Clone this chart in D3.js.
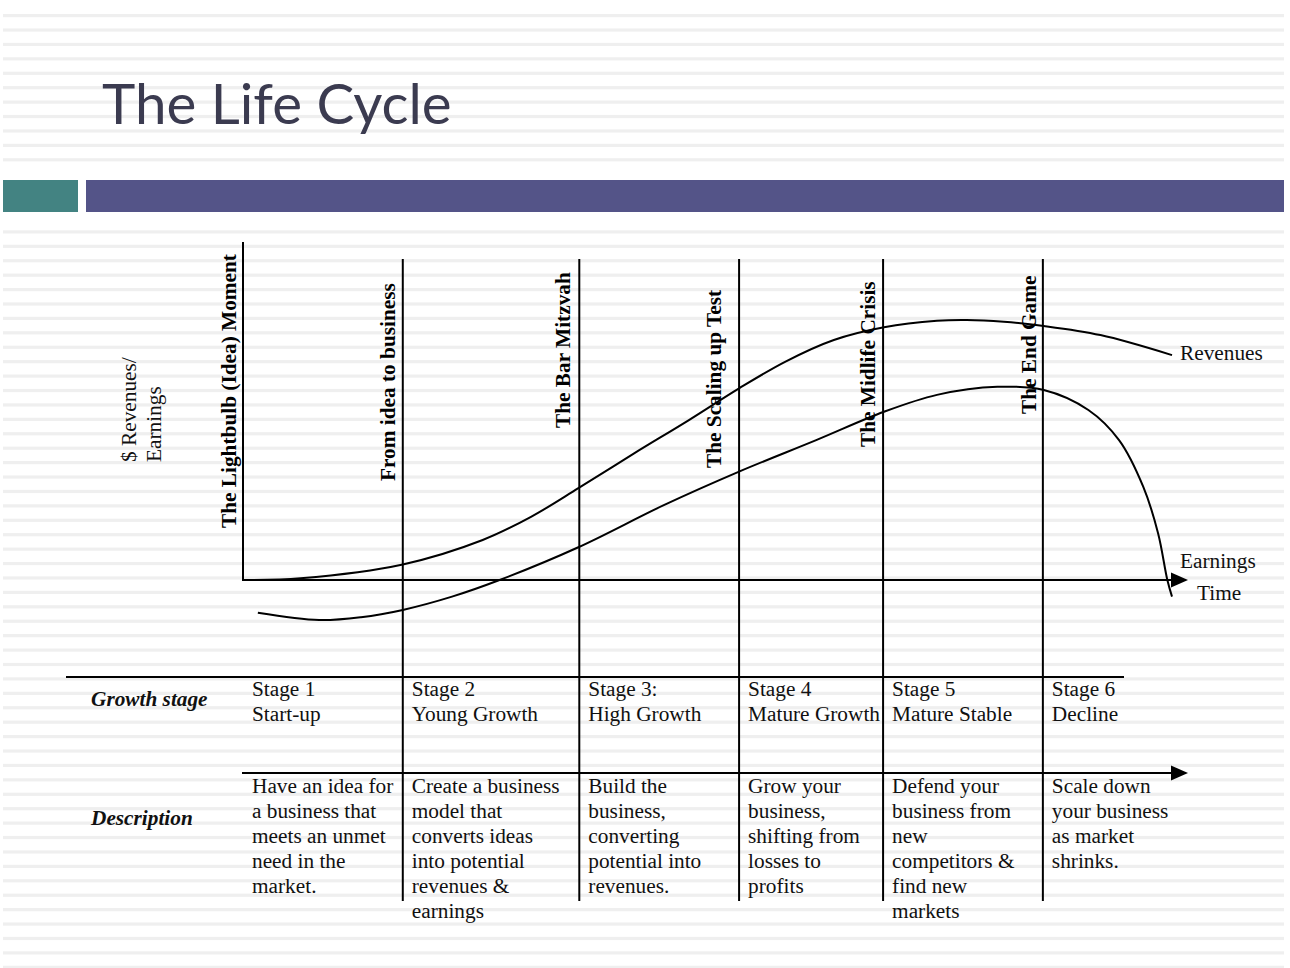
<!DOCTYPE html>
<html>
<head>
<meta charset="utf-8">
<script src="https://cdn.jsdelivr.net/npm/d3@7"></script>
<style>
  html, body { margin: 0; padding: 0; background: #ffffff; }
  svg { display: block; }
</style>
</head>
<body>
<svg id="chart" width="1290" height="968"></svg>
<script>
// ---------------- DATA ----------------
const titleText = "The Life Cycle";

// time runs 0..100 along the x axis; value 0 is the axis, 100 the revenue peak
const stageBoundaries = [0, 17.2, 36.2, 53.4, 68.9, 86.1];
const milestones = [
  "The Lightbulb (Idea) Moment",
  "From idea to business",
  "The Bar Mitzvah",
  "The Scaling up Test",
  "The Midlife Crisis",
  "The End Game"
];

const revenueTime  = [0, 6.2, 17.2, 25.8, 31.0, 36.1, 42.1, 48.0, 53.4, 58.4, 63.6, 69.0, 74.7, 77.9, 81.9, 86.2, 92.3, 100];
const revenueValue = [0, 0.7, 6.0, 15.4, 24.3, 35.3, 48.7, 61.5, 73.7, 84.0, 92.3, 97.2, 99.7, 100, 99.3, 97.7, 94.2, 86.5];

const earningsTime  = [1.6, 8.2, 12.7, 17.2, 22.5, 27.4, 36.1, 45.3, 53.4, 61.7, 69.0, 74.7, 81.2, 86.2, 91.0, 94.3, 96.9, 98.5, 99.5, 100];
const earningsValue = [-12.6, -15.4, -14.3, -11.5, -6.4, -0.3, 12.6, 28.8, 41.7, 53.8, 64.7, 71.2, 74.3, 73.1, 65.4, 53.8, 35.9, 18.0, 0, -6.4];

const stageNames = ["Stage 1", "Stage 2", "Stage 3:", "Stage 4", "Stage 5", "Stage 6"];
const stageTypes = ["Start-up", "Young Growth", "High Growth", "Mature Growth", "Mature Stable", "Decline"];
const descriptions = [
  ["Have an idea for", "a business that", "meets an unmet", "need in the", "market."],
  ["Create a business", "model that", "converts ideas", "into potential", "revenues &", "earnings"],
  ["Build the", "business,", "converting", "potential into", "revenues."],
  ["Grow your", "business,", "shifting from", "losses to", "profits"],
  ["Defend your", "business from", "new", "competitors &", "find new", "markets"],
  ["Scale down", "your business", "as market", "shrinks."]
];
const rowLabels = ["Growth stage", "Description"];
const yAxisLabel = ["$ Revenues/", "Earnings"];
const seriesLabels = ["Revenues", "Earnings"];
const xAxisLabel = "Time";

// ---------------- LAYOUT ----------------
const W = 1290, H = 968;
const svg = d3.select("#chart");
const serif = "'Liberation Serif', 'Times New Roman', serif";
const fs = 21.3;
const ink = "#000";
const textInk = "#111";

const x = d3.scaleLinear().domain([0, 100]).range([243, 1172]);
const y = d3.scaleLinear().domain([0, 100]).range([580, 320]);

// background stripes
const stripeG = svg.append("g");
for (let yy = 14; yy < H; yy += 14.42) {
  if (yy > 168 && yy < 222) continue;
  stripeG.append("rect").attr("x", 3).attr("y", yy).attr("width", 1281).attr("height", 3.2)
    .attr("fill", "#efefef");
}

// title
svg.append("text").attr("x", 102).attr("y", 124)
  .attr("font-family", "Lato, 'Open Sans', sans-serif").attr("font-size", 56.5)
  .attr("fill", "#3b3b50").text(titleText);

// header bars
svg.append("rect").attr("x", 3).attr("y", 180).attr("width", 75).attr("height", 32).attr("fill", "#438382");
svg.append("rect").attr("x", 86).attr("y", 180).attr("width", 1198).attr("height", 32).attr("fill", "#545488");

// axes
const yAxisTop = y(130);
svg.append("line").attr("x1", x(0)).attr("x2", x(0)).attr("y1", yAxisTop).attr("y2", y(0))
  .attr("stroke", ink).attr("stroke-width", 2);
svg.append("line").attr("x1", x(0) - 1).attr("x2", x(100) + 2).attr("y1", y(0)).attr("y2", y(0))
  .attr("stroke", ink).attr("stroke-width", 2);
function arrow(tipX, yy) {
  svg.append("path").attr("d", `M${tipX - 17},${yy - 7.5}L${tipX},${yy}L${tipX - 17},${yy + 7.5}Z`).attr("fill", ink);
}
arrow(x(100) + 16, y(0));

// stage boundary lines (skip the y axis)
const lineTop = 259, lineBottom = 901;
stageBoundaries.slice(1).forEach(t => {
  svg.append("line").attr("x1", x(t)).attr("x2", x(t)).attr("y1", lineTop).attr("y2", lineBottom)
    .attr("stroke", ink).attr("stroke-width", 2);
});

// table horizontal lines
const row1Y = 677, row2Y = 773;
svg.append("line").attr("x1", 66).attr("x2", 1124).attr("y1", row1Y).attr("y2", row1Y)
  .attr("stroke", ink).attr("stroke-width", 2);
svg.append("line").attr("x1", 242).attr("x2", x(100) + 2).attr("y1", row2Y).attr("y2", row2Y)
  .attr("stroke", ink).attr("stroke-width", 2);
arrow(x(100) + 16, row2Y);

// curves
const line = d3.line().x(d => x(d[0])).y(d => y(d[1])).curve(d3.curveCatmullRom.alpha(0.5));
const rev = revenueTime.map((t, i) => [t, revenueValue[i]]);
const earn = earningsTime.map((t, i) => [t, earningsValue[i]]);
svg.append("path").attr("d", line(rev)).attr("fill", "none").attr("stroke", ink).attr("stroke-width", 2);
svg.append("path").attr("d", line(earn)).attr("fill", "none").attr("stroke", ink).attr("stroke-width", 2);

// milestone labels (vertical, bold)
const labelOffset = [-7, -8, -9, -18, -8, -7];
const labelBottom = [528, 481, 428, 468, 447, 414];
milestones.forEach((m, i) => {
  const bx = x(stageBoundaries[i]) + labelOffset[i];
  svg.append("text").attr("transform", `translate(${bx},${labelBottom[i]}) rotate(-90)`)
    .attr("font-family", serif).attr("font-weight", "bold").attr("font-size", fs)
    .attr("fill", ink).text(m);
});

// y axis label
yAxisLabel.forEach((t, i) => {
  svg.append("text").attr("transform", `translate(${136 + i * 25},462) rotate(-90)`)
    .attr("font-family", serif).attr("font-size", fs).attr("fill", textInk).text(t);
});

// series labels
svg.append("text").attr("x", 1180).attr("y", 360).attr("font-family", serif).attr("font-size", fs)
  .attr("fill", textInk).text(seriesLabels[0]);
svg.append("text").attr("x", 1180).attr("y", 568).attr("font-family", serif).attr("font-size", fs)
  .attr("fill", textInk).text(seriesLabels[1]);
svg.append("text").attr("x", 1197).attr("y", 600).attr("font-family", serif).attr("font-size", fs)
  .attr("fill", textInk).text(xAxisLabel);

// row labels
svg.append("text").attr("x", 91).attr("y", 706).attr("font-family", serif).attr("font-size", fs)
  .attr("font-weight", "bold").attr("font-style", "italic").attr("fill", textInk).text(rowLabels[0]);
svg.append("text").attr("x", 91).attr("y", 825).attr("font-family", serif).attr("font-size", fs)
  .attr("font-weight", "bold").attr("font-style", "italic").attr("fill", textInk).text(rowLabels[1]);

// stage cells
stageNames.forEach((s, i) => {
  const cx = x(stageBoundaries[i]) + 9;
  const tx = svg.append("text").attr("font-family", serif).attr("font-size", fs).attr("fill", textInk);
  tx.append("tspan").attr("x", cx).attr("y", 696).text(s);
  tx.append("tspan").attr("x", cx).attr("y", 721).text(stageTypes[i]);
});

// description cells
descriptions.forEach((lines, i) => {
  const cx = x(stageBoundaries[i]) + 9;
  const tx = svg.append("text").attr("font-family", serif).attr("font-size", fs).attr("fill", textInk);
  lines.forEach((l, j) => tx.append("tspan").attr("x", cx).attr("y", 793 + j * 25).text(l));
});
</script>
</body>
</html>
